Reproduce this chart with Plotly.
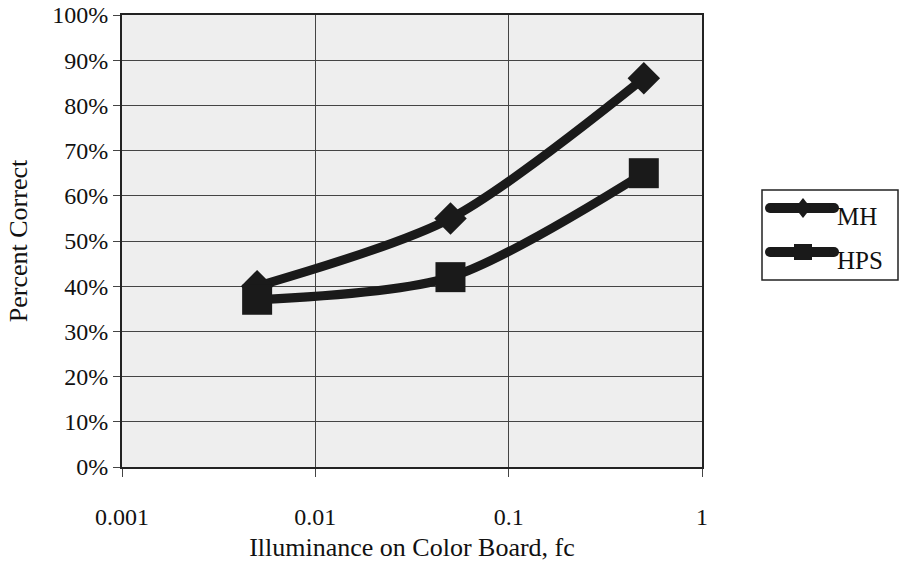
import plotly.graph_objects as go

# Illuminance levels (fc) and recognition scores (fraction correct)
illuminance = [0.005, 0.05, 0.5]
mh_correct = [0.40, 0.55, 0.86]
hps_correct = [0.37, 0.42, 0.65]

series_names = ["MH", "HPS"]

x_ticks = [0.001, 0.01, 0.1, 1]
x_tick_text = ["0.001", "0.01", "0.1", "1"]
y_ticks = [i / 10 for i in range(11)]
y_tick_text = [f"{i * 10}%" for i in range(11)]

FONT = "Liberation Serif, Times New Roman, serif"
INK = "#1a1a1a"

# plot area in pixels, used to place the hand-built legend
W, H = 900, 565
L, R, T, B = 122, 198, 15, 98
PW, PH = W - L - R, H - T - B


def px(x):
    return (x - L) / PW


def py(y):
    return (H - B - y) / PH


fig = go.Figure()
fig.add_trace(go.Scatter(
    x=illuminance, y=mh_correct, name=series_names[0], mode="lines+markers",
    line=dict(color=INK, width=9, shape="spline", smoothing=0.8),
    marker=dict(symbol="diamond", size=25, color=INK),
    showlegend=False,
))
fig.add_trace(go.Scatter(
    x=illuminance, y=hps_correct, name=series_names[1], mode="lines+markers",
    line=dict(color=INK, width=9, shape="spline", smoothing=0.8),
    marker=dict(symbol="square", size=30, color=INK),
    showlegend=False,
))

# legend box with long line samples, drawn in paper coordinates
shapes = [dict(type="rect", xref="paper", yref="paper",
               x0=px(762), x1=px(898), y0=py(280), y1=py(190),
               line=dict(color="#222", width=1.5), fillcolor="white", layer="above")]
annotations = []
rows = [(208, "diamond"), (252, "square")]
for (yc, sym), name in zip(rows, series_names):
    shapes.append(dict(type="line", xref="paper", yref="paper",
                       x0=px(770), x1=px(834), y0=py(yc), y1=py(yc),
                       line=dict(color=INK, width=10), layer="above"))
    for xe in (770, 834):
        shapes.append(dict(type="circle", xref="paper", yref="paper",
                           x0=px(xe - 5), x1=px(xe + 5), y0=py(yc + 5), y1=py(yc - 5),
                           line=dict(width=0), fillcolor=INK, layer="above"))
    if sym == "diamond":
        path = (f"M {px(803)},{py(yc - 10)} L {px(811)},{py(yc)} "
                f"L {px(803)},{py(yc + 10)} L {px(795)},{py(yc)} Z")
        shapes.append(dict(type="path", xref="paper", yref="paper", path=path,
                           line=dict(width=0), fillcolor=INK, layer="above"))
    else:
        shapes.append(dict(type="rect", xref="paper", yref="paper",
                           x0=px(794), x1=px(812), y0=py(yc + 8), y1=py(yc - 8),
                           line=dict(width=0), fillcolor=INK, layer="above"))
    annotations.append(dict(text=name, xref="paper", yref="paper",
                            x=px(835), y=py(yc + 8), xanchor="left", yanchor="middle",
                            showarrow=False, font=dict(family=FONT, size=25, color="#111")))

fig.update_layout(
    width=W, height=H,
    margin=dict(l=L, r=R, t=T, b=B),
    paper_bgcolor="white",
    plot_bgcolor="#eeeeee",
    font=dict(family=FONT, size=24, color="#111"),
    showlegend=False,
    shapes=shapes,
    annotations=annotations,
)
fig.update_xaxes(
    type="log", range=[-3, 0],
    tickvals=x_ticks, ticktext=x_tick_text,
    ticks="outside", ticklen=8, tickcolor="#444", tickwidth=1,
    ticklabelstandoff=19, automargin=False,
    showgrid=True, gridcolor="#444", gridwidth=1,
    showline=True, linecolor="#222", linewidth=2, mirror=True,
    title=dict(text="Illuminance on Color Board, fc", font=dict(size=26), standoff=9),
    tickfont=dict(size=24), zeroline=False,
)
fig.update_yaxes(
    range=[0, 1], tickvals=y_ticks, ticktext=y_tick_text,
    ticks="outside", ticklen=7, tickcolor="#444", tickwidth=1,
    automargin=False,
    showgrid=True, gridcolor="#444", gridwidth=1,
    showline=True, linecolor="#222", linewidth=2, mirror=True,
    title=dict(text="Percent Correct", font=dict(size=26), standoff=17),
    tickfont=dict(size=24), zeroline=False,
)

fig.write_html("out.html")
